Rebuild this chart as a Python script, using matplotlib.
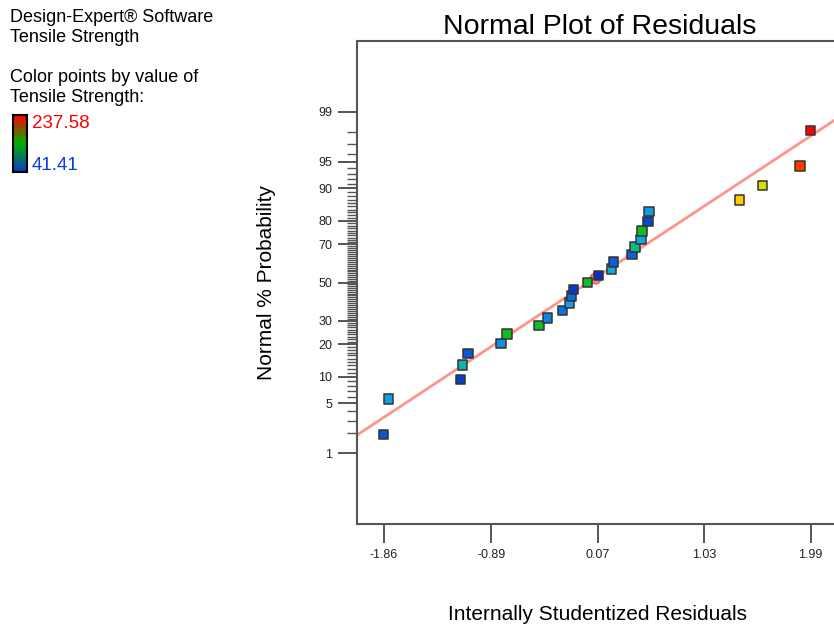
from statistics import NormalDist
import numpy as np
import matplotlib
matplotlib.use("Agg")
import matplotlib.pyplot as plt
from matplotlib.colors import LinearSegmentedColormap

plt.rcParams['font.family'] = ['Liberation Sans', 'DejaVu Sans']

# residuals (x) and normal % probability (y)
residuals = [-1.86, -1.815, -1.169, -1.151, -1.098, -0.802, -0.748, -0.461, -0.381,
             -0.246, -0.184, -0.166, -0.148, -0.022, 0.076, 0.193, 0.211, 0.381,
             0.408, 0.462, 0.470, 0.524, 0.533, 1.349, 1.555, 1.895, 1.99]
probability = [1.9, 5.6, 9.3, 13.0, 16.7, 20.4, 24.1, 27.8, 31.5, 35.2, 38.9, 42.6,
               46.3, 50.0, 53.7, 57.4, 61.1, 64.8, 68.5, 72.2, 75.9, 79.6, 83.3,
               87.0, 90.7, 94.4, 98.1]
# tensile strength used to colour each point
strength = [57, 79, 47, 96, 58, 75, 120, 118, 72, 66, 80, 64, 45, 121, 41.41, 88,
            60, 61, 105, 82, 119, 50, 78, 180, 160, 212, 237.58]
strength_min, strength_max = 41.41, 237.58

# highlighted point hidden behind the median squares
marked_x, marked_p = 0.05, 52.7

# fitted normal line
line_mean, line_sd = -0.014, 1.004

xtick_vals = [-1.86, -0.89, 0.07, 1.03, 1.99]
ytick_vals = [1, 5, 10, 20, 30, 50, 70, 80, 90, 95, 99]

header = ['Design-Expert® Software', 'Tensile Strength', '',
          'Color points by value of', 'Tensile Strength:']

nd = NormalDist()
def z(p):
    return nd.inv_cdf(p / 100.0)

pt_cmap = LinearSegmentedColormap.from_list('de', [
    (0.0, '#0a30c0'), (0.1, '#0a62da'), (0.2, '#12a4e6'), (0.3, '#10b8a0'),
    (0.4, '#10bb20'), (0.6, '#d4e000'), (0.7, '#ffd000'), (0.86, '#ff4000'),
    (1.0, '#ff0000')])
bar_cmap = LinearSegmentedColormap.from_list('bar', ['#0a3cc8', '#00b000', '#ff0000'])

W, H = 834, 629
fig = plt.figure(figsize=(W / 100, H / 100), dpi=100)
ax = fig.add_axes([357 / W, 105 / H, 484.6 / W, 483 / H])

xmin, xmax = -2.101, 2.27
zlim = nd.inv_cdf(0.9995)

xl = np.array([xmin, xmax])
ax.plot(xl, (xl - line_mean) / line_sd, color='#ff9488', lw=2, zorder=2)

ax.scatter([marked_x], [z(marked_p)], s=60, marker='o', facecolor='#f08a8a',
           edgecolor='#e06060', lw=1, zorder=3)

norm_vals = (np.array(strength) - strength_min) / (strength_max - strength_min)
ax.scatter(residuals, [z(p) for p in probability], s=46, marker='s',
           c=pt_cmap(norm_vals), edgecolor='#333333', lw=1.1, zorder=4)

ax.set_xlim(xmin, xmax)
ax.set_ylim(-zlim, zlim)

ax.set_xticks(xtick_vals)
ax.set_xticklabels([f'{v:.2f}' for v in xtick_vals])
ax.set_yticks([z(p) for p in ytick_vals])
ax.set_yticklabels([str(p) for p in ytick_vals])
minor = [p for p in range(2, 99) if p not in ytick_vals]
ax.set_yticks([z(p) for p in minor], minor=True)

ax.tick_params(axis='both', which='major', length=14, width=1.4, color='#555555',
               labelsize=9, pad=4, labelcolor='#222222')
ax.tick_params(axis='y', which='minor', length=7, width=1.0, color='#555555')
for s in ['left', 'top', 'bottom']:
    ax.spines[s].set_color('#555555')
    ax.spines[s].set_linewidth(1.5)
ax.spines['right'].set_visible(False)

ax.set_title('Normal Plot of Residuals', fontsize=20.5, pad=5)
fig.text(267 / W, 1 - 282 / H, 'Normal % Probability', rotation=90,
         ha='center', va='center', fontsize=15)
fig.text(597 / W, 1 - 615 / H, 'Internally Studentized Residuals',
         ha='center', va='center', fontsize=15)

for i, line in enumerate(header):
    fig.text(10 / W, 1 - (18 + 20 * i) / H, line, ha='left', va='center', fontsize=13)

cax = fig.add_axes([13 / W, (H - 172) / H, 14 / W, 57 / H])
grad = np.linspace(1, 0, 100).reshape(-1, 1)
cax.imshow(grad, aspect='auto', cmap=bar_cmap)
cax.set_xticks([])
cax.set_yticks([])
for s in cax.spines.values():
    s.set_color('black')
    s.set_linewidth(1.5)
fig.text(32 / W, 1 - 123 / H, f'{strength_max:.2f}', color='#ff0000',
         ha='left', va='center', fontsize=13.5)
fig.text(32 / W, 1 - 165 / H, f'{strength_min:.2f}', color='#0a3ce0',
         ha='left', va='center', fontsize=13.5)

fig.savefig('out.png', dpi=100)
